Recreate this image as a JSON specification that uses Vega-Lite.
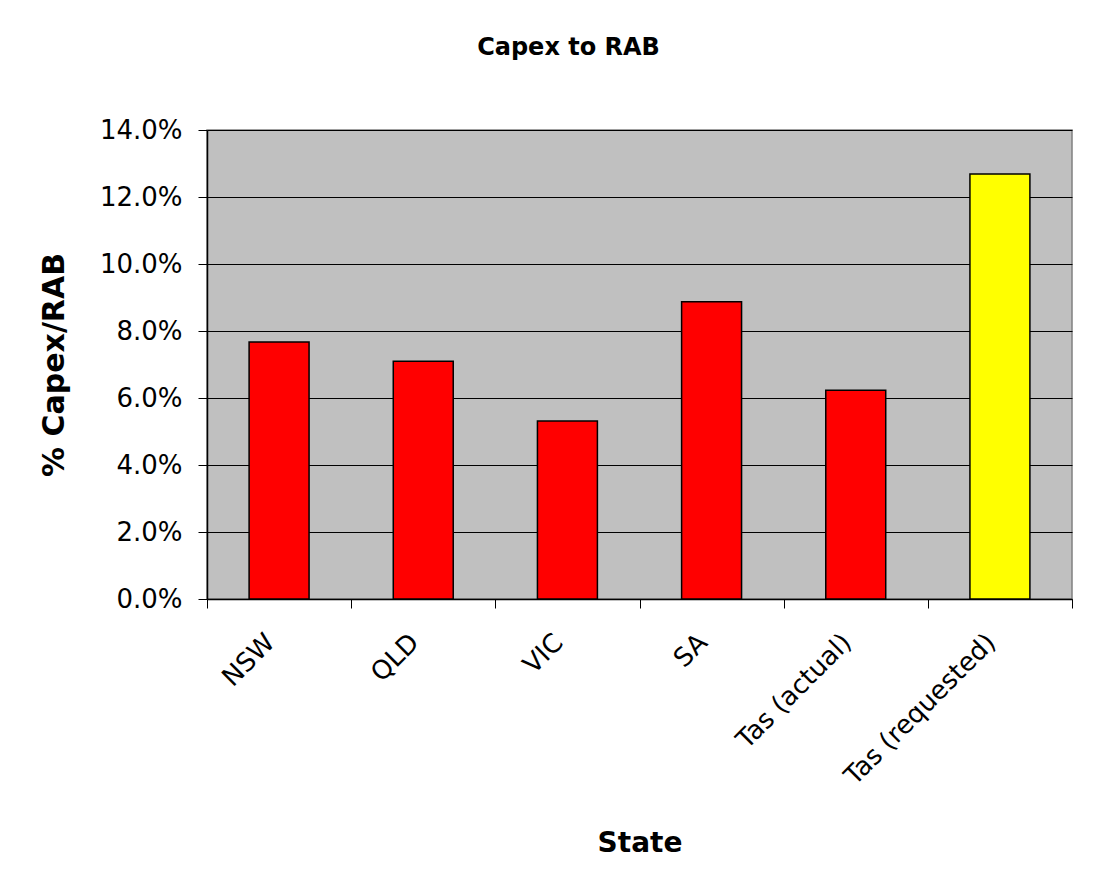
{
  "$schema": "https://vega.github.io/schema/vega-lite/v6.json",
  "autosize": {"type": "none"},
  "padding": {"left": 207, "top": 130, "right": 24, "bottom": 290},
  "width": 865,
  "height": 469,
  "background": "#ffffff",
  "title": {
    "text": "Capex to RAB",
    "font": "DejaVu Sans",
    "fontSize": 24,
    "fontWeight": "bold",
    "color": "#000000",
    "anchor": "middle",
    "dx": -71,
    "offset": 57
  },
  "data": {
    "values": [
      {"state": "NSW", "value": 0.0767, "group": "other"},
      {"state": "QLD", "value": 0.0710, "group": "other"},
      {"state": "VIC", "value": 0.0531, "group": "other"},
      {"state": "SA", "value": 0.0887, "group": "other"},
      {"state": "Tas (actual)", "value": 0.0623, "group": "other"},
      {"state": "Tas (requested)", "value": 0.1269, "group": "requested"}
    ]
  },
  "mark": {"type": "bar", "stroke": "#000000", "strokeWidth": 1.5, "width": {"band": 0.416}},
  "encoding": {
    "x": {
      "field": "state",
      "type": "nominal",
      "sort": null,
      "scale": {"paddingInner": 0, "paddingOuter": 0},
      "axis": {
        "title": "State",
        "tickBand": "extent",
        "labelAngle": -45,
        "labelAlign": "right",
        "labelBaseline": "middle",
        "labelPadding": 30,
        "labelOffset": -9,
        "labelLimit": 0,
        "titlePadding": 40
      }
    },
    "y": {
      "field": "value",
      "type": "quantitative",
      "scale": {"domain": [0, 0.14]},
      "axis": {
        "title": "% Capex/RAB",
        "format": ".1%",
        "values": [0, 0.02, 0.04, 0.06, 0.08, 0.10, 0.12, 0.14],
        "grid": true,
        "labelPadding": 16,
        "titlePadding": 30,
        "titleFontSize": 30
      }
    },
    "color": {
      "field": "group",
      "type": "nominal",
      "scale": {"domain": ["other", "requested"], "range": ["#FF0000", "#FFFF00"]},
      "legend": null
    }
  },
  "config": {
    "font": "DejaVu Sans",
    "view": {"fill": "#C0C0C0", "stroke": "#808080", "strokeWidth": 1.5},
    "axis": {
      "domainColor": "#000000",
      "domainWidth": 1.5,
      "tickColor": "#000000",
      "tickSize": 9,
      "tickWidth": 1,
      "gridColor": "#000000",
      "gridWidth": 1,
      "gridOpacity": 1,
      "labelFont": "DejaVu Sans",
      "labelFontSize": 26,
      "labelColor": "#000000",
      "titleFont": "DejaVu Sans",
      "titleFontSize": 28,
      "titleFontWeight": "bold",
      "titleColor": "#000000"
    },
    "axisX": {"grid": false}
  }
}
